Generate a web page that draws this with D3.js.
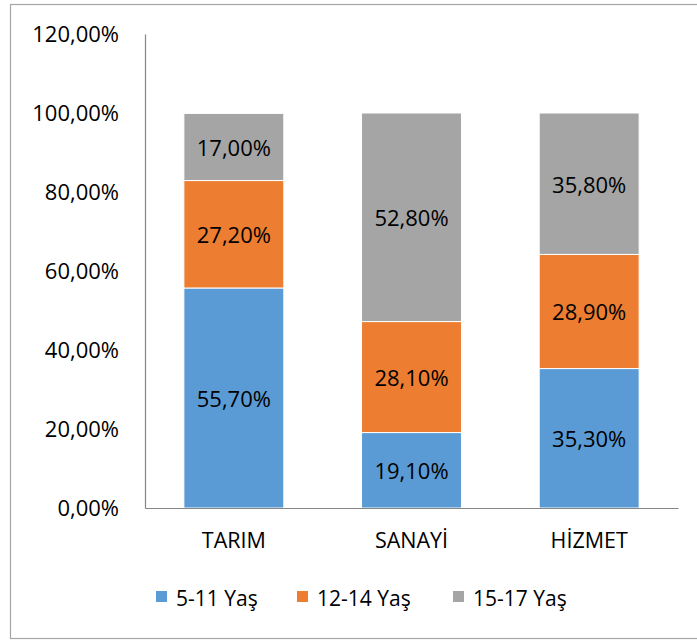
<!DOCTYPE html>
<html><head><meta charset="utf-8">
<script src="https://cdn.jsdelivr.net/npm/d3@7"></script>
<style>body{margin:0;background:#fff}svg{display:block}text{font-family:"Open Sans",sans-serif;fill:#000}</style>
</head><body>
<svg id="c" width="697" height="642"></svg>
<script>
const categories = ["TARIM", "SANAYİ", "HİZMET"];
const seriesNames = ["5-11 Yaş", "12-14 Yaş", "15-17 Yaş"];
const s511 = [55.7, 19.1, 35.3];
const s1214 = [27.2, 28.1, 28.9];
const s1517 = [17.0, 52.8, 35.8];
const colors = ["#5B9BD5", "#ED7D31", "#A5A5A5"];
const yTicks = [0, 20, 40, 60, 80, 100, 120];
const FF = '"Open Sans",sans-serif';

const svg = d3.select("#c");
svg.append("rect").attr("x", 10.5).attr("y", 4.5).attr("width", 690).attr("height", 634)
  .attr("fill", "none").attr("stroke", "#A6A6A6").attr("stroke-width", 1.2);

const x = d3.scaleBand().domain(categories).range([145, 678]).paddingInner(0.4375).paddingOuter(0.21875);
const y = d3.scaleLinear().domain([0, 120]).range([508, 34]);
const fmt = v => v.toFixed(2).replace(".", ",") + "%";

const table = categories.map((c, i) => ({cat: c, "5-11 Yaş": s511[i], "12-14 Yaş": s1214[i], "15-17 Yaş": s1517[i]}));
const stacked = d3.stack().keys(seriesNames)(table);

const g = svg.append("g");
stacked.forEach((layer, li) => {
  layer.forEach(d => {
    g.append("rect").attr("x", x(d.data.cat)).attr("y", y(d[1]))
      .attr("width", x.bandwidth()).attr("height", y(d[0]) - y(d[1]))
      .attr("fill", colors[li]).attr("stroke", "#fff").attr("stroke-width", 1);
    g.append("text").attr("x", x(d.data.cat) + x.bandwidth() / 2).attr("y", (y(d[0]) + y(d[1])) / 2)
      .attr("text-anchor", "middle").attr("dominant-baseline", "central")
      .style("font-size", "22px").text(fmt(d.data[layer.key]));
  });
});

// y axis
const yAxis = svg.append("g").attr("transform", "translate(145,0)")
  .call(d3.axisLeft(y).tickValues(yTicks).tickSize(0).tickPadding(26).tickFormat(fmt));
yAxis.select(".domain").attr("stroke", "#868686").attr("stroke-width", 1.2);
yAxis.selectAll("text").style("font-size", "22px").style("font-family", FF).style("fill", "#000");

// x axis
const xAxis = svg.append("g").attr("transform", "translate(0,508)")
  .call(d3.axisBottom(x).tickSize(0).tickPadding(25));
xAxis.select(".domain").attr("stroke", "#868686").attr("stroke-width", 1.2);
xAxis.selectAll("text").style("font-size", "21.5px").style("font-family", FF).style("fill", "#000");

// legend
const legX = [156, 297, 453];
seriesNames.forEach((n, i) => {
  svg.append("rect").attr("x", legX[i]).attr("y", 591).attr("width", 11).attr("height", 11).attr("fill", colors[i]);
  svg.append("text").attr("x", legX[i] + 20).attr("y", 598).attr("dominant-baseline", "central")
    .style("font-size", "21px").text(n);
});
</script>
</body></html>
